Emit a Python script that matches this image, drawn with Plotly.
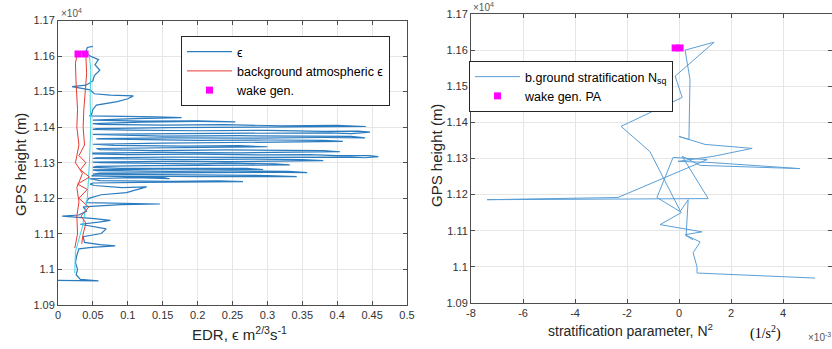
import plotly.graph_objects as go

# ---------------- data ----------------
# Left panel: EDR epsilon profile (x in m^2/3 s^-1, height in m)
eps_x = [0.000, 0.058, 0.032, 0.026, 0.028, 0.025, 0.027, 0.030, 0.048, 0.082, 0.060, 0.038, 0.036, 0.062, 0.069,
         0.050, 0.032, 0.058, 0.075, 0.052, 0.006, 0.030, 0.041, 0.036, 0.090, 0.146, 0.085, 0.040, 0.044, 0.062,
         0.098, 0.127, 0.092, 0.052, 0.046,
         0.050, 0.120, 0.215, 0.265, 0.230, 0.160, 0.060,
         0.045, 0.110, 0.160, 0.150, 0.070,
         0.048, 0.120, 0.200, 0.280, 0.342, 0.300, 0.210, 0.120, 0.050,
         0.060, 0.150, 0.250, 0.320, 0.357, 0.330, 0.250, 0.160, 0.055,
         0.050, 0.140, 0.240, 0.294, 0.270, 0.180, 0.090, 0.050,
         0.055, 0.130, 0.220, 0.300, 0.332, 0.310, 0.240, 0.200, 0.120, 0.060,
         0.050, 0.150, 0.250, 0.330, 0.380, 0.350, 0.280, 0.180, 0.100, 0.050,
         0.055, 0.160, 0.260, 0.350, 0.420, 0.440, 0.459, 0.445, 0.400, 0.360, 0.300, 0.200, 0.100, 0.050,
         0.050, 0.150, 0.260, 0.340, 0.404, 0.380, 0.330, 0.240, 0.140, 0.060,
         0.055, 0.140, 0.230, 0.300, 0.260, 0.180, 0.080,
         0.050, 0.150, 0.250, 0.330, 0.408, 0.380, 0.300, 0.200, 0.110, 0.055,
         0.060, 0.160, 0.280, 0.380, 0.440, 0.420, 0.360, 0.260, 0.150, 0.060,
         0.050, 0.170, 0.290, 0.390, 0.420, 0.447, 0.430, 0.380, 0.300, 0.200, 0.100, 0.050,
         0.055, 0.160, 0.280, 0.380, 0.441, 0.400, 0.320, 0.240, 0.150, 0.060,
         0.050, 0.120, 0.200, 0.254, 0.200, 0.120, 0.060,
         0.050, 0.110, 0.177, 0.140, 0.070, 0.045,
         0.048, 0.050, 0.055, 0.085, 0.100, 0.108, 0.075, 0.052, 0.046, 0.020, 0.040, 0.050, 0.052, 0.060,
         0.053, 0.058, 0.046, 0.040, 0.042, 0.050]
eps_h = [10969, 10968, 10972, 10985, 11000, 11020, 11040, 11058, 11062, 11066, 11070, 11076, 11092, 11101, 11114,
         11120, 11127, 11133, 11138, 11143, 11150, 11153, 11164, 11176, 11182, 11184, 11186, 11188, 11200, 11210,
         11216, 11232, 11230, 11236, 11240,
         11243, 11245, 11246, 11247, 11249, 11248, 11250,
         11255, 11258, 11255, 11259, 11262,
         11263, 11262, 11261, 11260, 11261, 11264, 11265, 11266, 11268,
         11271, 11272, 11271, 11273, 11272, 11276, 11277, 11276, 11278,
         11280, 11282, 11280, 11281, 11284, 11285, 11284, 11287,
         11290, 11292, 11293, 11292, 11294, 11297, 11299, 11297, 11298, 11300,
         11302, 11304, 11303, 11305, 11306, 11309, 11310, 11309, 11311, 11312,
         11314, 11316, 11315, 11316, 11316, 11314, 11317, 11320, 11320, 11323, 11322, 11324, 11323, 11325,
         11327, 11329, 11328, 11330, 11331, 11334, 11335, 11336, 11334, 11337,
         11340, 11342, 11343, 11345, 11348, 11347, 11349,
         11352, 11355, 11357, 11359, 11360, 11363, 11364, 11363, 11365, 11367,
         11368, 11370, 11369, 11371, 11370, 11374, 11375, 11376, 11375, 11378,
         11380, 11382, 11383, 11384, 11382, 11386, 11389, 11388, 11391, 11390, 11392, 11394,
         11396, 11399, 11400, 11401, 11402, 11405, 11404, 11407, 11406, 11408,
         11410, 11414, 11416, 11415, 11418, 11417, 11419,
         11420, 11424, 11427, 11429, 11430, 11432,
         11436, 11450, 11462, 11472, 11480, 11488, 11490, 11494, 11505, 11514, 11518, 11530, 11545, 11560,
         11576, 11590, 11600, 11612, 11624, 11627]

# secondary (cyan) epsilon strand
eps2_x = [0.045, 0.047, 0.046, 0.047, 0.045, 0.042, 0.035, 0.025, 0.024]
eps2_h = [11600, 11560, 11480, 11400, 11300, 11200, 11120, 11050, 10990]

# background atmospheric epsilon
bg_x = [0.034, 0.036, 0.040, 0.033, 0.044, 0.030, 0.042, 0.028, 0.045, 0.032, 0.040, 0.030, 0.038, 0.036, 0.037,
        0.039, 0.041, 0.040, 0.033, 0.028, 0.025, 0.026, 0.028, 0.027, 0.030, 0.025, 0.035, 0.027, 0.030, 0.027,
        0.028, 0.024]
bg_h = [11072, 11100, 11130, 11150, 11175, 11200, 11225, 11240, 11260, 11280, 11300, 11320, 11350, 11400, 11450,
        11500, 11550, 11600, 11612, 11610, 11580, 11520, 11450, 11400, 11350, 11300, 11270, 11230, 11190, 11150,
        11100, 11060]

# wake generation points (left)
wake_x = [0.0287, 0.0387]
wake_h = [11606, 11606]

# Right panel: background stratification N^2 (x in 1e-3 1/s^2, height in m)
nsq_x = [5.23, 0.69, 0.69, 0.54, 0.81, 0.23, 0.88, -0.73, 0.08, -1.12, -2.23, 0.12, -0.15, 1.35, 0.23, 0.42,
         0.38, 0.00, 1.00, 2.81, 1.31, -0.04, 1.19, 4.65, 0.81, 0.12, 1.12, -7.38, -2.35, 1.08, -0.23, -0.85,
         0.04, 0.35, 0.27, 0.54]
nsq_h = [10969, 10983, 11000, 11039, 11069, 11089, 11097, 11117, 11150, 11319, 11389, 11469, 11528, 11622, 11600,
         11519, 11353, 11361, 11339, 11328, 11306, 11292, 11289, 11272, 11281, 11306, 11189, 11186, 11192, 11297,
         11303, 11192, 11153, 11186, 11086, 11075]

# wake generation points (right)
wakepa_x = [-0.15, 0.04]
wakepa_h = [11606, 11606]

# ticks
y_ticks = [10900, 11000, 11100, 11200, 11300, 11400, 11500, 11600, 11700]
y_ticktext = ["1.09", "1.1", "1.11", "1.12", "1.13", "1.14", "1.15", "1.16", "1.17"]
x1_ticks = [0, 0.05, 0.1, 0.15, 0.2, 0.25, 0.3, 0.35, 0.4, 0.45, 0.5]
x1_ticktext = ["0", "0.05", "0.1", "0.15", "0.2", "0.25", "0.3", "0.35", "0.4", "0.45", "0.5"]
x2_ticks = [-8, -6, -4, -2, 0, 2, 4]
x2_ticktext = ["-8", "-6", "-4", "-2", "0", "2", "4"]

# ---------------- figure ----------------
W, H = 832, 349
FONT = "Liberation Sans, Arial, sans-serif"
BLUE = "#2b7bbf"


def px(x):
    return x / W


def py(y):
    return 1 - y / H


fig = go.Figure()

fig.add_trace(go.Scatter(x=eps_x, y=eps_h, mode="lines", name="ϵ",
                         line=dict(color=BLUE, width=1.2), xaxis="x", yaxis="y", legend="legend"))
fig.add_trace(go.Scatter(x=eps2_x, y=eps2_h, mode="lines", showlegend=False,
                         line=dict(color="#35d6e6", width=1), xaxis="x", yaxis="y"))
fig.add_trace(go.Scatter(x=bg_x, y=bg_h, mode="lines", name="background atmospheric ϵ",
                         line=dict(color="#e83a32", width=1), xaxis="x", yaxis="y", legend="legend"))
fig.add_trace(go.Scatter(x=wake_x, y=wake_h, mode="markers", name="wake gen.",
                         marker=dict(symbol="square", size=7, color="#ff00ff"),
                         xaxis="x", yaxis="y", legend="legend"))

fig.add_trace(go.Scatter(x=nsq_x, y=nsq_h, mode="lines", name="b.ground stratification N<sub>sq</sub>",
                         line=dict(color="#5b9fd6", width=1), xaxis="x2", yaxis="y2", legend="legend2"))
fig.add_trace(go.Scatter(x=wakepa_x, y=wakepa_h, mode="markers", name="wake gen. PA",
                         marker=dict(symbol="square", size=7, color="#ff00ff"),
                         xaxis="x2", yaxis="y2", legend="legend2"))

axis_common = dict(showline=True, linecolor="#4d4d4d", linewidth=1, mirror="ticks",
                   ticks="inside", ticklen=4, tickcolor="#4d4d4d", automargin=False,
                   showgrid=True, gridcolor="#e6e6e6", gridwidth=1, zeroline=False,
                   tickfont=dict(family=FONT, size=11, color="#333333"))

fig.update_layout(
    width=W, height=H,
    margin=dict(l=0, r=0, t=0, b=0, pad=0),
    paper_bgcolor="white", plot_bgcolor="white",
    font=dict(family=FONT, color="#262626"),
    xaxis=dict(domain=[px(58), px(407)], range=[0, 0.5], anchor="y",
               tickvals=x1_ticks, ticktext=x1_ticktext, **axis_common),
    yaxis=dict(domain=[py(305), py(20.5)], range=[10900, 11700], anchor="x",
               tickvals=y_ticks, ticktext=y_ticktext, **axis_common),
    xaxis2=dict(domain=[px(471), 1.0], range=[-8, 5.88], anchor="y2",
                tickvals=x2_ticks, ticktext=x2_ticktext, **axis_common),
    yaxis2=dict(domain=[py(303), py(14)], range=[10900, 11700], anchor="x2",
                tickvals=y_ticks, ticktext=y_ticktext, **axis_common),
    legend=dict(x=px(181), y=py(36), xanchor="left", yanchor="top", itemwidth=45,
                bgcolor="white", bordercolor="#262626", borderwidth=1,
                font=dict(family=FONT, size=12.5, color="#000000"), tracegroupgap=0),
    legend2=dict(x=px(469), y=py(61), xanchor="left", yanchor="top", itemwidth=45,
                 bgcolor="white", bordercolor="#262626", borderwidth=1,
                 font=dict(family=FONT, size=12.5, color="#000000"), tracegroupgap=0),
    showlegend=True,
)

annotations = [
    dict(x=px(21), y=py(165), text="GPS height (m)", textangle=-90),
    dict(x=px(436), y=py(156), text="GPS height (m)", textangle=-90),
    dict(x=px(240), y=py(333), text="EDR, ϵ m<sup>2/3</sup>s<sup>-1</sup>"),
    dict(x=px(630), y=py(330), text="stratification parameter, N<sup>2</sup>", font=dict(size=14)),
    dict(x=px(765), y=py(332), text="(1/s<sup>2</sup>)",
         font=dict(family="Liberation Serif, Times New Roman, serif", size=14, color="#000000")),
    dict(x=px(806), y=py(337), text="×10<sup>-3</sup>", xanchor="left", font=dict(size=10, color="#555555")),
    dict(x=px(59), y=py(13), text="×10<sup>4</sup>", xanchor="left", font=dict(size=10, color="#555555")),
    dict(x=px(471), y=py(7), text="×10<sup>4</sup>", xanchor="left", font=dict(size=10, color="#555555")),
]
for a in annotations:
    base = dict(xref="paper", yref="paper", showarrow=False, xanchor="center", yanchor="middle",
                font=dict(family=FONT, size=15, color="#262626"))
    f = dict(base["font"])
    f.update(a.pop("font", {}))
    base.update(a)
    base["font"] = f
    fig.add_annotation(**base)

fig.write_html(
    "out.html",
    config={"displayModeBar": False},
    post_script="document.body.style.margin='0px';document.body.style.padding='0px';"
                "document.body.style.overflow='hidden';",
)
